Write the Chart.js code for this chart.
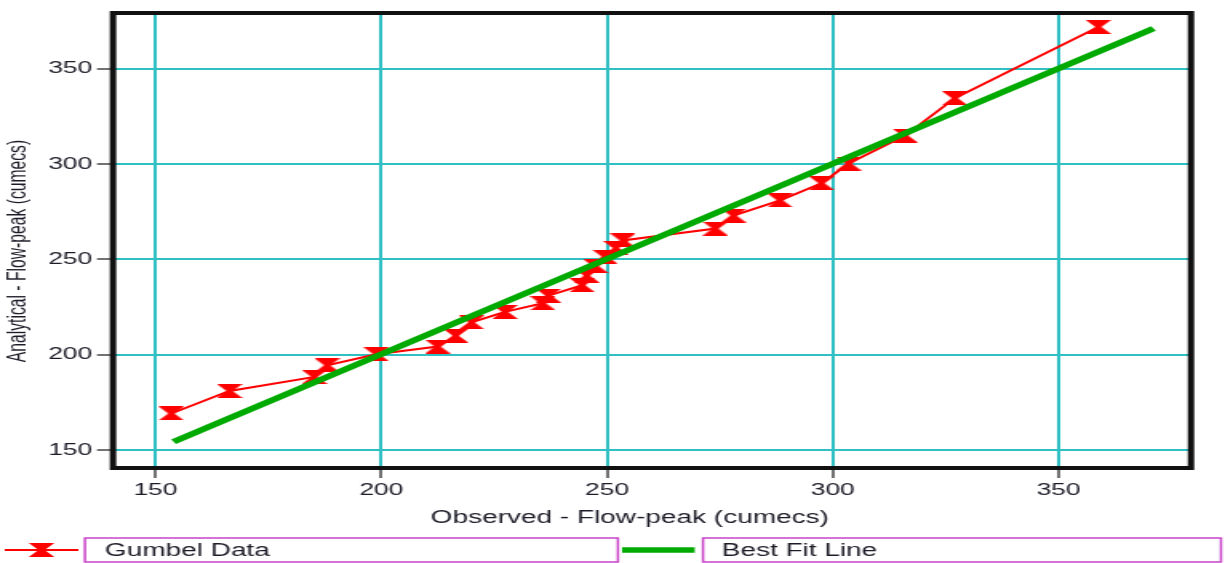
<!DOCTYPE html>
<html>
<head>
<meta charset="utf-8">
<script src="https://cdn.jsdelivr.net/npm/chart.js@4/dist/chart.umd.min.js"></script>
<style>
  html, body { margin: 0; padding: 0; background: #fff; overflow: hidden; }
  #c { display: block; width: 766px; height: 563px; transform: scaleX(1.5992); transform-origin: 0 0; }
</style>
</head>
<body>
<canvas id="c" width="766" height="563"></canvas>
<script>
// ---- data ----
const gumbelX = [153.5,166.4,185.2,188,198.9,212.5,216.5,220,227.4,235.8,237,244.5,245.5,247.5,249.5,252,253.5,274,278,288.3,297.5,303.5,316,327,358.8];
const gumbelY = [169.2,181,188.4,194.5,200.3,204.3,210,217,222.5,227,231,236.5,241.5,246.5,251.5,256,260,266.2,273,281,290,300.3,315,334.6,372];
const fitX = [154, 371];
const fitY = [154.4, 371.2];
const xTicks = [150, 200, 250, 300, 350];
const yTicks = [150, 200, 250, 300, 350];
const seriesNames = ['Gumbel Data', 'Best Fit Line'];
const xTitle = 'Observed - Flow-peak (cumecs)';
const yTitle = 'Analytical - Flow-peak (cumecs)';

// ---- styles ----
const FONT = '"Liberation Sans", Arial, sans-serif';
const TXT = '#1c1c28';
const GRID = '#30c0c4';
const RED = '#ff0000';
const GREEN = '#00aa00';
const MAGENTA = '#c844c8';

function makeMarker(w, h, color) {
  const cv = document.createElement('canvas');
  cv.width = w; cv.height = h;
  const g = cv.getContext('2d');
  g.fillStyle = color;
  g.beginPath();
  g.moveTo(0, 0);
  g.lineTo(w, 0);
  g.lineTo(w * 0.62, h / 2);
  g.lineTo(w, h);
  g.lineTo(0, h);
  g.lineTo(w * 0.38, h / 2);
  g.closePath();
  g.fill();
  return cv;
}
const marker = makeMarker(16, 14, RED);

const decor = {
  id: 'decor',
  afterDraw(chart) {
    const ctx = chart.ctx;
    const a = chart.chartArea;
    ctx.save();
    // frame
    ctx.strokeStyle = '#111';
    ctx.lineWidth = 4;
    ctx.strokeRect(a.left, a.top, a.right - a.left, a.bottom - a.top);
    // axis titles
    ctx.fillStyle = TXT;
    ctx.font = '17.5px ' + FONT;
    ctx.textAlign = 'center';
    ctx.textBaseline = 'middle';
    ctx.fillText(xTitle, 393.8, 518);
    ctx.save();
    ctx.translate(11.5, 251);
    ctx.rotate(-Math.PI / 2);
    ctx.font = '15.7px ' + FONT;
    ctx.fillText(yTitle, 0, 0);
    ctx.restore();
    // legend
    const ly = 550;
    ctx.strokeStyle = RED; ctx.lineWidth = 2;
    ctx.beginPath(); ctx.moveTo(3, ly); ctx.lineTo(49, ly); ctx.stroke();
    ctx.drawImage(marker, 26 - marker.width / 2, ly - marker.height / 2);
    ctx.strokeStyle = GREEN; ctx.lineWidth = 5.5;
    ctx.beginPath(); ctx.moveTo(389, ly); ctx.lineTo(434.4, ly); ctx.stroke();
    ctx.strokeStyle = MAGENTA; ctx.lineWidth = 1.5;
    ctx.strokeRect(53.1, 538, 333.3, 24);
    ctx.strokeRect(439.6, 538, 323.9, 24);
    ctx.fillStyle = TXT;
    ctx.font = '17.5px ' + FONT;
    ctx.textAlign = 'left';
    ctx.fillText(seriesNames[0], 65.6, ly + 1);
    ctx.fillText(seriesNames[1], 451.3, ly + 1);
    ctx.restore();
  }
};

function axisOpts(ticksArr, isX) {
  return {
    type: 'linear',
    min: 140.6,
    max: 379.3,
    afterBuildTicks: s => { s.ticks = ticksArr.map(v => ({ value: v })); },
    afterFit: s => { if (isX) s.height = 95; else s.width = 70.66; },
    grid: { color: GRID, lineWidth: 2, tickLength: 10, tickColor: '#444', tickWidth: 1.5 },
    border: { display: false },
    ticks: { color: TXT, font: { family: FONT, size: 16.5 }, padding: 3, maxRotation: 0, autoSkip: false }
  };
}

new Chart(document.getElementById('c'), {
  type: 'scatter',
  data: {
    datasets: [
      {
        label: seriesNames[1],
        data: fitX.map((x, i) => ({ x, y: fitY[i] })),
        showLine: true,
        borderColor: GREEN,
        borderWidth: 5.5,
        pointRadius: 0,
        order: 0
      },
      {
        label: seriesNames[0],
        data: gumbelX.map((x, i) => ({ x, y: gumbelY[i] })),
        showLine: true,
        borderColor: RED,
        borderWidth: 2,
        pointStyle: marker,
        pointRadius: 8,
        order: 1
      }
    ]
  },
  options: {
    responsive: false,
    animation: false,
    devicePixelRatio: 1,
    layout: { padding: { top: 13, right: 21.3, left: 0, bottom: 0 } },
    plugins: { legend: { display: false }, tooltip: { enabled: false } },
    scales: { x: axisOpts(xTicks, true), y: axisOpts(yTicks, false) }
  },
  plugins: [decor]
});
</script>
</body>
</html>
